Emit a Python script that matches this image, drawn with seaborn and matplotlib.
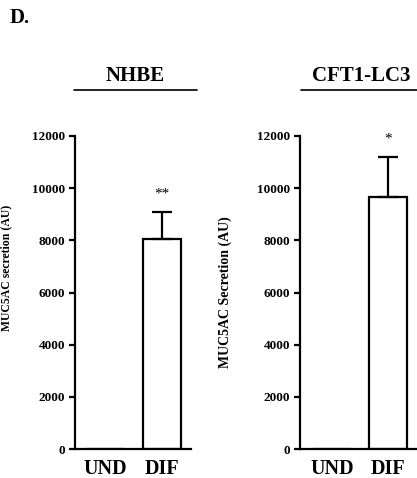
import numpy as np
import matplotlib
matplotlib.use('Agg')
import matplotlib.pyplot as plt
import seaborn as sns
import pandas as pd
from matplotlib.lines import Line2D

categories = ['UND', 'DIF']
nhbe_mean = [0, 8050]
nhbe_sem = [0, 1040]
cft_mean = [0, 9660]
cft_sem = [0, 1540]
nhbe_marks = ['', '**']
cft_marks = ['', '*']
y_ticks = [0, 2000, 4000, 6000, 8000, 10000, 12000]

sns.set_style('ticks')
plt.rcParams['font.family'] = ['Liberation Serif', 'DejaVu Serif']
plt.rcParams['font.weight'] = 'bold'
plt.rcParams['text.color'] = 'black'
plt.rcParams['axes.labelcolor'] = 'black'
plt.rcParams['axes.edgecolor'] = 'black'
plt.rcParams['xtick.color'] = 'black'
plt.rcParams['ytick.color'] = 'black'

W, H = 417, 478
fig = plt.figure(figsize=(W / 100, H / 100), dpi=100)


def px(x0, y0, x1, y1):
    return [x0 / W, 1 - y1 / H, (x1 - x0) / W, (y1 - y0) / H]


def panel(rect, means, sems, marks, xlim, ylabel, label_size, label_x, label_y):
    ax = fig.add_axes(rect)
    df = pd.DataFrame({'group': categories, 'value': means})
    sns.barplot(data=df, x='group', y='value', ax=ax, color='white',
                edgecolor='black', linewidth=1.6, width=0.68, errorbar=None)
    for b in ax.patches:
        b.set_facecolor('white')
    xs = np.arange(len(categories))
    for x, m, s, mk in zip(xs, means, sems, marks):
        if s > 0:
            ax.errorbar(x, m, yerr=[[0], [s]], fmt='none', ecolor='black',
                        elinewidth=1.6, capsize=7.5, capthick=1.6)
        if mk:
            ax.text(x, m + s + 700, mk, ha='center', va='center',
                    fontsize=11, fontweight='normal')
    ax.set_xlim(*xlim)
    ax.set_ylim(0, 12000)
    ax.set_yticks(y_ticks)
    ax.set_yticklabels([str(t) for t in y_ticks], fontsize=9.5, fontweight='bold')
    ax.set_xticks(xs)
    ax.set_xticklabels(categories, fontsize=14.5, fontweight='bold')
    ax.tick_params(axis='y', length=4, width=1.6, direction='out', pad=3)
    ax.tick_params(axis='x', length=0, pad=7)
    ax.set_xlabel('')
    ax.set_ylabel(ylabel, fontsize=label_size, fontweight='bold')
    ax.yaxis.set_label_coords(label_x, label_y)
    for sp in ['top', 'right']:
        ax.spines[sp].set_visible(False)
    for sp in ['left', 'bottom']:
        ax.spines[sp].set_linewidth(1.6)
    return ax


panel(px(75, 136, 191, 449), nhbe_mean, nhbe_sem, nhbe_marks, (-0.526, 1.509),
      'MUC5AC secretion (AU)', 8.5, -0.54, 0.578)
panel(px(300, 136, 417, 449), cft_mean, cft_sem, cft_marks, (-0.57, 1.52),
      'MUC5AC Secretion (AU)', 10, -0.58, 0.5)

fig.text(135 / W, 1 - 76 / H, 'NHBE', ha='center', va='center',
         fontsize=15, fontweight='bold')
fig.text(361 / W, 1 - 76 / H, 'CFT1-LC3', ha='center', va='center',
         fontsize=15, fontweight='bold')
fig.add_artist(Line2D([74 / W, 197 / W], [1 - 90 / H, 1 - 90 / H],
                      color='black', lw=1.2))
fig.add_artist(Line2D([301 / W, 417 / W], [1 - 90 / H, 1 - 90 / H],
                      color='black', lw=1.2))
fig.text(10 / W, 1 - 18 / H, 'D.', ha='left', va='center',
         fontsize=15, fontweight='bold')

fig.savefig('out.png', dpi=100)
